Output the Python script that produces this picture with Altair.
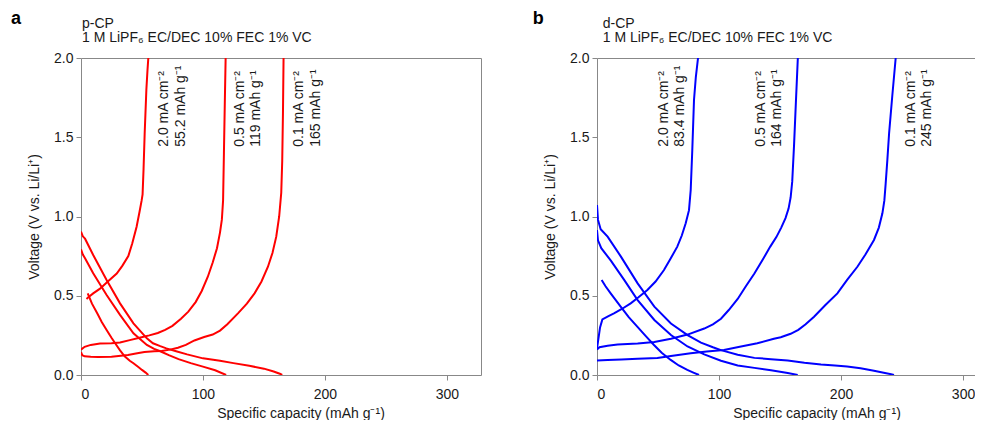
import altair as alt
import pandas as pd

FONT = "Liberation Sans, Arial, sans-serif"
FS = 14
GRAY = "#888888"

# ---------------- p-CP (red) ----------------
p_d01_cap = [0, 1.5, 3.3, 10, 21, 32, 43, 54, 59, 65, 70, 78, 87, 100, 114, 125, 138, 150, 158, 163, 165]
p_d01_v = [0.905, 0.875, 0.86, 0.757, 0.6, 0.452, 0.326, 0.231, 0.2, 0.182, 0.168, 0.15, 0.13, 0.105, 0.09, 0.075, 0.058, 0.04, 0.022, 0.008, 0.0]
p_d05_cap = [0, 1.5, 3.3, 10, 21, 32, 43, 54, 60, 65, 72, 80, 90, 100, 110, 119]
p_d05_v = [0.793, 0.76, 0.737, 0.642, 0.505, 0.379, 0.263, 0.19, 0.165, 0.15, 0.125, 0.1, 0.075, 0.053, 0.03, 0.0]
p_d20_cap = [5.5, 9, 13.3, 17, 21, 25, 28, 32, 36, 40, 43, 47, 50, 53, 55.2]
p_d20_v = [0.515, 0.45, 0.389, 0.335, 0.284, 0.235, 0.2, 0.155, 0.116, 0.09, 0.074, 0.05, 0.032, 0.015, 0.0]
p_c20_cap = [4.5, 6, 10, 15.6, 22, 29.3, 34, 38.8, 42, 45.6, 48, 49.7, 50.5, 51.3, 52.2, 53.6, 54.5, 55.2]
p_c20_v = [0.48, 0.49, 0.515, 0.545, 0.59, 0.64, 0.69, 0.75, 0.83, 0.935, 1.03, 1.1, 1.14, 1.3, 1.52, 1.8, 1.92, 2.0]
p_c05_cap = [0, 3, 8, 15.6, 25, 32, 40, 48, 56, 63, 69, 75, 82, 88, 94, 99, 104, 108, 111.5, 114, 115.5, 116.5, 117.2, 118, 118.6]
p_c05_v = [0.16, 0.178, 0.19, 0.198, 0.2, 0.205, 0.22, 0.235, 0.25, 0.265, 0.285, 0.31, 0.355, 0.4, 0.46, 0.53, 0.62, 0.71, 0.8, 0.9, 0.98, 1.1, 1.4, 1.75, 2.0]
p_c01_cap = [0, 1, 3, 8, 14, 25, 38.5, 45, 52, 60, 66, 73, 79.5, 86, 93, 101, 108, 114, 120, 128.7, 136, 142.3, 148, 153.3, 157, 160.1, 162.5, 164.2, 165, 165.6, 166.1]
p_c01_v = [0.145, 0.125, 0.118, 0.115, 0.113, 0.115, 0.126, 0.135, 0.145, 0.15, 0.152, 0.16, 0.172, 0.19, 0.218, 0.24, 0.255, 0.28, 0.32, 0.389, 0.45, 0.515, 0.59, 0.683, 0.77, 0.873, 1.0, 1.15, 1.35, 1.65, 2.0]

p_ann_cap = [68.0, 82.0, 130.7, 143.4, 179.1, 192.6]
p_ann_v = [1.44] * 6
p_ann_text = ["2.0 mA cm⁻²", "55.2 mAh g⁻¹", "0.5 mA cm⁻²", "119 mAh g⁻¹", "0.1 mA cm⁻²", "165 mAh g⁻¹"]

# ---------------- d-CP (blue) ----------------
d_d01_cap = [0, 0.8, 3, 8.7, 19.6, 33.3, 47, 60.6, 74.2, 85.2, 95, 101.6, 115.3, 129, 142.6, 156.3, 170, 183.6, 195, 205, 216, 227, 236, 241, 243.4]
d_d01_v = [1.072, 0.98, 0.92, 0.873, 0.747, 0.578, 0.431, 0.325, 0.252, 0.204, 0.175, 0.157, 0.128, 0.108, 0.1, 0.092, 0.078, 0.067, 0.06, 0.053, 0.042, 0.027, 0.013, 0.005, 0.0]
d_d05_cap = [0, 0.8, 3.5, 11.5, 22.4, 33.3, 47, 60.6, 74.2, 87.9, 101.6, 115.3, 129, 142.6, 156.3, 164.5]
d_d05_v = [0.915, 0.85, 0.8, 0.72, 0.599, 0.473, 0.347, 0.252, 0.18, 0.13, 0.09, 0.06, 0.045, 0.03, 0.013, 0.0]
d_d20_cap = [3.8, 7, 11.2, 19.4, 26, 33, 40, 46.7, 53, 60.4, 67, 74, 79, 83.6]
d_d20_v = [0.6, 0.56, 0.515, 0.431, 0.365, 0.305, 0.245, 0.189, 0.14, 0.095, 0.06, 0.032, 0.015, 0.0]
d_c20_cap = [0, 1, 2.5, 4.4, 9, 13.9, 20, 27.6, 34, 41.3, 48, 54.9, 60, 65.8, 69.5, 72.7, 75.4, 76.8, 78.1, 79.5, 81, 82.8]
d_c20_v = [0.168, 0.22, 0.3, 0.351, 0.37, 0.389, 0.415, 0.452, 0.49, 0.536, 0.59, 0.662, 0.73, 0.81, 0.88, 0.957, 1.04, 1.167, 1.42, 1.735, 1.88, 2.0]
d_c05_cap = [0, 2, 8.7, 16.9, 33.3, 47, 60.6, 74.2, 87.9, 95, 101.6, 108, 115.3, 122, 129, 136, 142, 147, 151, 154.5, 157, 158.7, 160, 161.5, 163, 164.6]
d_c05_v = [0.16, 0.175, 0.185, 0.193, 0.198, 0.208, 0.229, 0.255, 0.293, 0.32, 0.355, 0.41, 0.48, 0.56, 0.64, 0.73, 0.81, 0.87, 0.93, 0.99, 1.05, 1.12, 1.22, 1.45, 1.72, 2.0]
d_c01_cap = [0, 8.7, 20, 33.3, 49.5, 60.6, 76.8, 90, 104, 117, 131.4, 145, 150.6, 158.7, 165, 171, 177.9, 187, 197, 205, 213.4, 220, 227, 231, 233.9, 235.5, 236.6, 238, 239.4, 242, 244.8]
d_c01_v = [0.092, 0.094, 0.098, 0.103, 0.107, 0.12, 0.137, 0.148, 0.158, 0.178, 0.2, 0.229, 0.238, 0.26, 0.285, 0.32, 0.368, 0.44, 0.515, 0.6, 0.683, 0.76, 0.852, 0.93, 1.02, 1.1, 1.209, 1.36, 1.525, 1.76, 2.0]

d_ann_cap = [55.0, 68.2, 134.6, 147.2, 257.5, 270.2]
d_ann_v = [1.44] * 6
d_ann_text = ["2.0 mA cm⁻²", "83.4 mAh g⁻¹", "0.5 mA cm⁻²", "164 mAh g⁻¹", "0.1 mA cm⁻²", "245 mAh g⁻¹"]

y_ticks = [0, 0.5, 1.0, 1.5, 2.0]
x_ticks = [0, 100, 200, 300]
electrolyte = "1 M LiPF₆ EC/DEC 10% FEC 1% VC"


def curves_df(curves):
    rows = []
    for cid, (caps, vs) in curves.items():
        for i, (c, v) in enumerate(zip(caps, vs)):
            rows.append({"curve": cid, "idx": i, "cap": c, "v": v})
    return pd.DataFrame(rows)


def panel(df, ann_df, color, xmax, width, letter, letter_dx, name, name_dx, right_border):
    xs = alt.Scale(domain=[0, xmax], nice=False, zero=False)
    ys = alt.Scale(domain=[0, 2], nice=False)
    xaxis = alt.Axis(values=x_ticks, format="d", title="Specific capacity (mAh g⁻¹)",
                     titleX=219.5, titleY=42, titleAlign="center", titleBaseline="alphabetic",
                     labelPadding=7)
    yaxis = alt.Axis(values=y_ticks, format=".1f", title="Voltage (V vs. Li/Li⁺)",
                     titleX=-42.5, titleY=158.5, titleAngle=270, titleAlign="center",
                     titleBaseline="alphabetic", labelPadding=3)
    lines = alt.Chart(df).mark_line(color=color, strokeWidth=2, clip=True).encode(
        x=alt.X("cap:Q", scale=xs, axis=xaxis),
        y=alt.Y("v:Q", scale=ys, axis=yaxis),
        detail="curve:N",
        order="idx:Q",
    )
    # frame: top border (and right border for the left panel) drawn as bare axes
    border_x = alt.Axis(orient="top", labels=False, ticks=False, title=None, domainColor=GRAY)
    border_y = alt.Axis(orient="right", labels=False, ticks=False, title=None,
                        domainColor=GRAY if right_border else "transparent")
    frame = alt.Chart(df).mark_line(opacity=0).encode(
        x=alt.X("cap:Q", scale=xs, axis=border_x),
        y=alt.Y("v:Q", scale=ys, axis=border_y),
        detail="curve:N",
    )
    ann = alt.Chart(ann_df).mark_text(angle=270, align="left", baseline="middle",
                                      fontSize=FS, font=FONT, color="#1a1a1a").encode(
        x=alt.X("cap:Q", scale=xs, axis=None), y=alt.Y("v:Q", scale=ys, axis=None), text="label:N")
    t_letter = alt.Chart(pd.DataFrame({"t": [letter]})).mark_text(
        align="left", baseline="alphabetic", fontSize=18, fontWeight="bold", font=FONT,
        color="#000").encode(x=alt.value(letter_dx), y=alt.value(-34), text="t:N")
    t_name = alt.Chart(pd.DataFrame({"t": [name]})).mark_text(
        align="left", baseline="alphabetic", fontSize=FS, font=FONT,
        color="#1a1a1a").encode(x=alt.value(name_dx), y=alt.value(-30.5), text="t:N")
    t_elec = alt.Chart(pd.DataFrame({"t": [electrolyte]})).mark_text(
        align="left", baseline="alphabetic", fontSize=FS, font=FONT,
        color="#1a1a1a").encode(x=alt.value(name_dx), y=alt.value(-15.7), text="t:N")
    return alt.layer(lines, frame, ann, t_letter, t_name, t_elec).resolve_axis(
        x="independent", y="independent").properties(width=width, height=317)


p_df = curves_df({"d01": (p_d01_cap, p_d01_v), "d05": (p_d05_cap, p_d05_v), "d20": (p_d20_cap, p_d20_v),
                  "c20": (p_c20_cap, p_c20_v), "c05": (p_c05_cap, p_c05_v), "c01": (p_c01_cap, p_c01_v)})
d_df = curves_df({"d01": (d_d01_cap, d_d01_v), "d05": (d_d05_cap, d_d05_v), "d20": (d_d20_cap, d_d20_v),
                  "c20": (d_c20_cap, d_c20_v), "c05": (d_c05_cap, d_c05_v), "c01": (d_c01_cap, d_c01_v)})
p_ann = pd.DataFrame({"cap": p_ann_cap, "v": p_ann_v, "label": p_ann_text})
d_ann = pd.DataFrame({"cap": d_ann_cap, "v": d_ann_v, "label": d_ann_text})

left = panel(p_df, p_ann, "#ff0000", 328, 400, "a", -70, "p-CP", 1, True)
right = panel(d_df, d_ann, "#0000ff", 309.8, 378, "b", -64.3, "d-CP", 5.7, False)

chart = alt.hconcat(left, right, spacing=51).properties(
    padding={"left": 3, "top": 2, "right": 0, "bottom": 0}
).configure_view(strokeWidth=0).configure_axis(
    grid=False, domainColor=GRAY, tickColor=GRAY, tickSize=5,
    labelColor="#1a1a1a", titleColor="#1a1a1a", labelFont=FONT, titleFont=FONT,
    labelFontSize=FS, titleFontSize=FS, titleFontWeight="normal"
).configure_text(font=FONT)

chart.save("out.html", embed_options={"renderer": "svg", "actions": False})
